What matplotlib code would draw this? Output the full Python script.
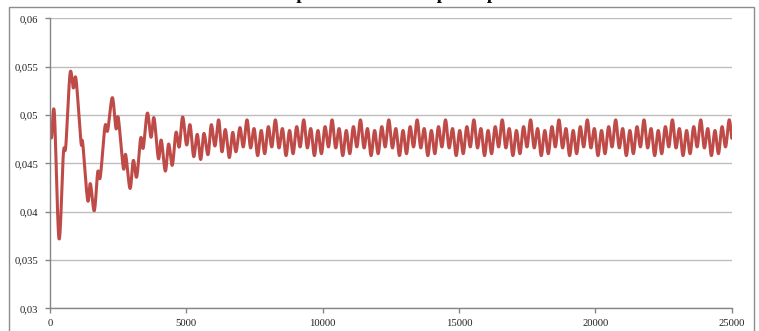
import numpy as np
import matplotlib.pyplot as plt
from matplotlib.patches import Rectangle

# turning points (x = step, y = value)
early_x = [0, 60, 160, 330, 490, 580, 735, 855, 955, 1135, 1200, 1380, 1480, 1625,
           1750, 1845, 2015, 2115, 2285, 2420, 2505, 2690, 2775, 2935, 3055, 3180,
           3325, 3420, 3570, 3705, 3815, 3975, 4080, 4230, 4350, 4485, 4620, 4740,
           4865, 5010, 5135, 5270, 5400, 5525, 5645, 5795, 5915, 6050, 6185, 6305,
           6430, 6575, 6700, 6820, 6965, 7090]
early_y = [0.0482, 0.0477, 0.0502, 0.0372, 0.0460, 0.0468, 0.0543, 0.0528, 0.0537,
           0.0472, 0.0471, 0.0412, 0.0429, 0.0401, 0.0441, 0.0436, 0.0488, 0.0484,
           0.0518, 0.0486, 0.0497, 0.0445, 0.0459, 0.0424, 0.0453, 0.0436, 0.0476,
           0.0466, 0.0502, 0.0477, 0.0497, 0.0455, 0.0474, 0.0442, 0.0470, 0.0448,
           0.0482, 0.0467, 0.0498, 0.0469, 0.0490, 0.0457, 0.0480, 0.0454, 0.0481,
           0.0459, 0.0490, 0.0468, 0.0495, 0.0462, 0.0485, 0.0456, 0.0482, 0.0462,
           0.0487, 0.0467]

# steady part: turning points every 130 steps from 7225
steady_start = 7225
steady_step = 130
steady_y = [
    0.0495, 0.0466, 0.0486, 0.0458, 0.0484, 0.0460, 0.0488, 0.0467,
    0.0495, 0.0466, 0.0486, 0.0458, 0.0484, 0.0460, 0.0488, 0.0467,
    0.0495, 0.0466, 0.0486, 0.0458, 0.0484, 0.0460, 0.0488, 0.0467,
    0.0495, 0.0466, 0.0486, 0.0458, 0.0484, 0.0460, 0.0488, 0.0467,
    0.0495, 0.0466, 0.0486, 0.0458, 0.0484, 0.0460, 0.0488, 0.0467,
    0.0495, 0.0466, 0.0486, 0.0458, 0.0484, 0.0460, 0.0488, 0.0467,
    0.0495, 0.0466, 0.0486, 0.0458, 0.0484, 0.0460, 0.0488, 0.0467,
    0.0495, 0.0466, 0.0486, 0.0458, 0.0484, 0.0460, 0.0488, 0.0467,
    0.0495, 0.0466, 0.0486, 0.0458, 0.0484, 0.0460, 0.0488, 0.0467,
    0.0495, 0.0466, 0.0486, 0.0458, 0.0484, 0.0460, 0.0488, 0.0467,
    0.0495, 0.0466, 0.0486, 0.0458, 0.0484, 0.0460, 0.0488, 0.0467,
    0.0495, 0.0466, 0.0486, 0.0458, 0.0484, 0.0460, 0.0488, 0.0467,
    0.0495, 0.0466, 0.0486, 0.0458, 0.0484, 0.0460, 0.0488, 0.0467,
    0.0495, 0.0466, 0.0486, 0.0458, 0.0484, 0.0460, 0.0488, 0.0467,
    0.0495, 0.0466, 0.0486, 0.0458, 0.0484, 0.0460, 0.0488, 0.0467,
    0.0495, 0.0466, 0.0486, 0.0458, 0.0484, 0.0460, 0.0488, 0.0467,
    0.0495, 0.0466, 0.0486, 0.0458, 0.0484, 0.0460, 0.0488, 0.0467,
    0.0495,
]
end_x = 25000
end_y = 0.0476

y_ticks = [0.03, 0.035, 0.04, 0.045, 0.05, 0.055, 0.06]
y_labels = ["0,03", "0,035", "0,04", "0,045", "0,05", "0,055", "0,06"]
x_ticks = [0, 5000, 10000, 15000, 20000, 25000]
title = "Estimation de la probabilité de rupture par simulation"

xs = early_x + [steady_start + i * steady_step for i in range(len(steady_y))] + [end_x]
ys = early_y + steady_y + [end_y]


def smooth(xv, yv, n=14):
    # Catmull-Rom through the points, like a "smoothed line" chart
    p = np.column_stack([xv, yv]).astype(float)
    p = np.vstack([p[0], p, p[-1]])
    t = np.linspace(0, 1, n, endpoint=False)[:, None]
    out = []
    for i in range(1, len(p) - 2):
        p0, p1, p2, p3 = p[i - 1], p[i], p[i + 1], p[i + 2]
        seg = 0.5 * (2 * p1 + (p2 - p0) * t
                     + (2 * p0 - 5 * p1 + 4 * p2 - p3) * t ** 2
                     + (3 * p1 - p0 - 3 * p2 + p3) * t ** 3)
        out.append(seg)
    out.append(p[-2][None])
    return np.vstack(out)


plt.rcParams['font.family'] = ['Liberation Serif', 'DejaVu Serif']

fig = plt.figure(figsize=(7.59, 3.31), dpi=100)
ax = fig.add_axes([50 / 759, 1 - 308.3 / 331, 681.7 / 759, 289.9 / 331])

curve = smooth(xs, ys)
ax.plot(curve[:, 0], curve[:, 1], color="#BE4B48", lw=2.2, solid_capstyle="round")

ax.set_xlim(0, 25000)
ax.set_ylim(0.03, 0.06)
ax.set_yticks(y_ticks)
ax.set_yticklabels(y_labels)
ax.set_xticks(x_ticks)
ax.set_xticklabels([str(v) for v in x_ticks])
ax.yaxis.grid(True, color="#bdbdbd", lw=1.0)
ax.set_axisbelow(True)
for s in ["top", "right"]:
    ax.spines[s].set_visible(False)
for s in ["left", "bottom"]:
    ax.spines[s].set_color("#868686")
    ax.spines[s].set_linewidth(1.0)
ax.tick_params(axis="both", colors="#868686", length=3.5, width=1.0,
               labelsize=7.7, labelcolor="#222222")
ax.tick_params(axis="y", pad=5)
ax.tick_params(axis="x", pad=4)

# chart area border
fig.patches.append(Rectangle((9 / 759, -0.1), 745.3 / 759, 1.1 - 7.3 / 331,
                             transform=fig.transFigure, fill=False,
                             edgecolor="#8c8c8c", lw=1.0))

# title sits mostly above the visible area
fig.text(0.503, 1 + 1.2 / 331, title, ha="center", va="baseline",
         fontsize=14, fontweight="bold", color="#111111")

fig.savefig("out.png", dpi=100)
